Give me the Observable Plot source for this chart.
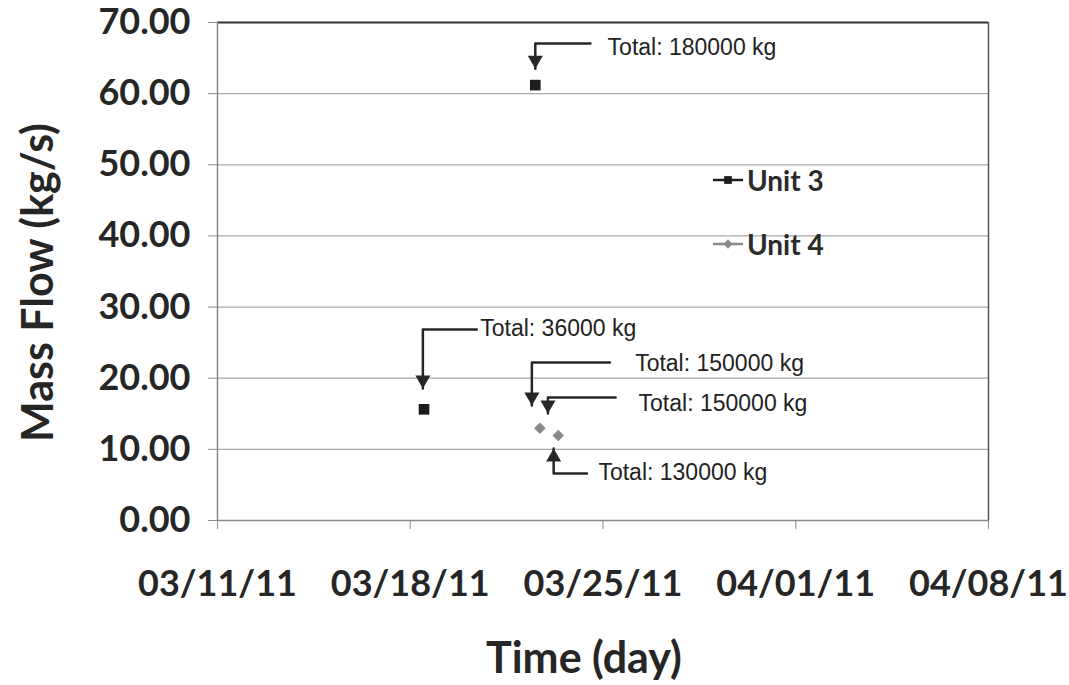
<!DOCTYPE html>
<html>
<head>
<meta charset="utf-8">
<script src="https://cdn.jsdelivr.net/npm/d3@7"></script>
<script src="https://cdn.jsdelivr.net/npm/@observablehq/plot@0.6"></script>
<style>
  html, body { margin: 0; padding: 0; background: #fff; }
  #wrap { position: relative; width: 1069px; height: 685px; }
  #legend { position: absolute; left: 712px; top: 164px; font-family: Lato, sans-serif; font-weight: 700; font-size: 28px; color: #2b2b2b; }
  #legend .row { display: flex; align-items: center; height: 32px; }
  #legend .row + .row { margin-top: 32px; }
  #legend svg { margin-right: 3px; }
</style>
</head>
<body>
<div id="wrap"><div id="legend"></div></div>
<script>
// ---- data ----
const seriesNames = ["Unit 3", "Unit 4"];
const unit3Dates = ["2011-03-18T12:00Z", "2011-03-22T13:00Z"];
const unit3Values = [15.63, 61.2];
const unit4Dates = ["2011-03-22T17:00Z", "2011-03-23T09:00Z"];
const unit4Values = [12.97, 11.95];

const xTickDates = ["2011-03-11", "2011-03-18", "2011-03-25", "2011-04-01", "2011-04-08"];
const yTicks = [0, 10, 20, 30, 40, 50, 60, 70];

// annotations (in data units)
const annLabels = ["Total: 180000 kg", "Total: 36000 kg", "Total: 150000 kg", "Total: 150000 kg", "Total: 130000 kg"];
const annTipDates = ["2011-03-22T13:00Z", "2011-03-18T11:00Z", "2011-03-22T10:00Z", "2011-03-23T00:00Z", "2011-03-23T05:00Z"];
const annTipValues = [63.5, 18.55, 16.17, 15.04, 10.12];
const annElbowValues = [67.05, 26.85, 22.2, 17.29, 6.6];
const annLineEndDates = ["2011-03-24T13:00Z", "2011-03-20T10:00Z", "2011-03-25T06:00Z", "2011-03-25T11:00Z", "2011-03-24T10:00Z"];
const annTextDates = ["2011-03-25T04:00Z", "2011-03-20T13:00Z", "2011-03-26T04:00Z", "2011-03-26T07:00Z", "2011-03-24T20:00Z"];
const annTextValues = [66.5, 27.0, 22.07, 16.45, 6.75];

// ---- build tables ----
const points = [
  ...unit3Dates.map((d, i) => ({series: seriesNames[0], date: new Date(d), value: unit3Values[i]})),
  ...unit4Dates.map((d, i) => ({series: seriesNames[1], date: new Date(d), value: unit4Values[i]}))
];
const ann = annLabels.map((label, i) => ({
  label,
  tipDate: new Date(annTipDates[i]),
  tipValue: annTipValues[i],
  elbowValue: annElbowValues[i],
  endDate: new Date(annLineEndDates[i]),
  textDate: new Date(annTextDates[i]),
  textValue: annTextValues[i],
  up: annTipValues[i] > annElbowValues[i]
}));
const annPaths = ann.flatMap((a, i) => [
  {k: i, date: a.endDate, value: a.elbowValue},
  {k: i, date: a.tipDate, value: a.elbowValue},
  {k: i, date: a.tipDate, value: a.tipValue}
]);

const xDomain = [new Date(xTickDates[0]), new Date(xTickDates[xTickDates.length - 1])];
const ink = "#262626";

const chart = Plot.plot({
  width: 1069,
  height: 685,
  marginLeft: 217,
  marginRight: 81,
  marginTop: 22,
  marginBottom: 165,
  style: {fontFamily: "Lato, sans-serif", fontWeight: "700", color: ink, background: "#fff", overflow: "visible"},
  x: {type: "utc", domain: xDomain},
  y: {domain: [0, 70]},
  marks: [
    Plot.gridY(yTicks.slice(1, -1), {stroke: "#a8a8a8", strokeOpacity: 1, strokeWidth: 1.2}),
    Plot.ruleY([0], {stroke: "#8a8a8a", strokeWidth: 1.5}),
    Plot.ruleY([70], {stroke: "#333", strokeWidth: 1.8}),
    Plot.ruleX([xDomain[0]], {stroke: "#8a8a8a", strokeWidth: 1.5}),
    Plot.ruleX([xDomain[1]], {stroke: "#555", strokeWidth: 1.5}),
    Plot.axisY({
      ticks: yTicks, tickFormat: d => d.toFixed(2), tickSize: 9, tickPadding: 18,
      fontSize: 36, stroke: "#8a8a8a", fill: ink, label: null
    }),
    Plot.axisX({
      ticks: xTickDates.map(d => new Date(d)), tickFormat: d3.utcFormat("%m/%d/%y"),
      tickSize: 9, tickPadding: 41, fontSize: 36, stroke: "#8a8a8a", fill: ink, label: null
    }),
    Plot.text(["Time (day)"], {frameAnchor: "bottom", textAnchor: "middle", lineAnchor: "middle", dx: -19, dy: 139, fontSize: 43, fill: ink}),
    Plot.text(["Mass Flow (kg/s)"], {frameAnchor: "left", textAnchor: "middle", lineAnchor: "middle", rotate: -90, dx: -178, dy: 11, fontSize: 43, fill: ink}),
    // annotations
    Plot.line(annPaths, {x: "date", y: "value", z: "k", stroke: ink, strokeWidth: 2.5, curve: "linear"}),
    Plot.dot(ann.filter(a => !a.up), {x: "tipDate", y: "tipValue", symbol: "triangle", r: 5.6, rotate: 180, dy: -8.7, fill: ink, stroke: "none"}),
    Plot.dot(ann.filter(a => a.up), {x: "tipDate", y: "tipValue", symbol: "triangle", r: 5.6, rotate: 0, dy: 8.7, fill: ink, stroke: "none"}),
    Plot.text(ann, {x: "textDate", y: "textValue", text: "label", textAnchor: "start", fontSize: 23, fontFamily: "Liberation Sans, Arial, sans-serif", fontWeight: 400, fill: "#222"}),
    // data points
    Plot.dot(points.filter(p => p.series === seriesNames[0]), {x: "date", y: "value", symbol: "square", r: 6, fill: "#1c1c1c", stroke: "none"}),
    Plot.dot(points.filter(p => p.series === seriesNames[1]), {x: "date", y: "value", symbol: "diamond2", r: 5.2, fill: "#8a8a8a", stroke: "none"})
  ]
});
document.getElementById("wrap").prepend(chart);

// legend
const legend = d3.select("#legend");
const legendStyles = [
  {color: "#1c1c1c", symbol: d3.symbolSquare, size: 60},
  {color: "#8a8a8a", symbol: d3.symbolDiamond2, size: 55}
];
seriesNames.forEach((name, i) => {
  const row = legend.append("div").attr("class", "row");
  const s = row.append("svg").attr("width", 32).attr("height", 20);
  s.append("line").attr("x1", 1).attr("x2", 31).attr("y1", 10).attr("y2", 10)
    .attr("stroke", legendStyles[i].color).attr("stroke-width", 2.5);
  s.append("path").attr("transform", "translate(16,10)")
    .attr("d", d3.symbol(legendStyles[i].symbol, legendStyles[i].size)())
    .attr("fill", legendStyles[i].color);
  row.append("span").text(name);
});
</script>
</body>
</html>
